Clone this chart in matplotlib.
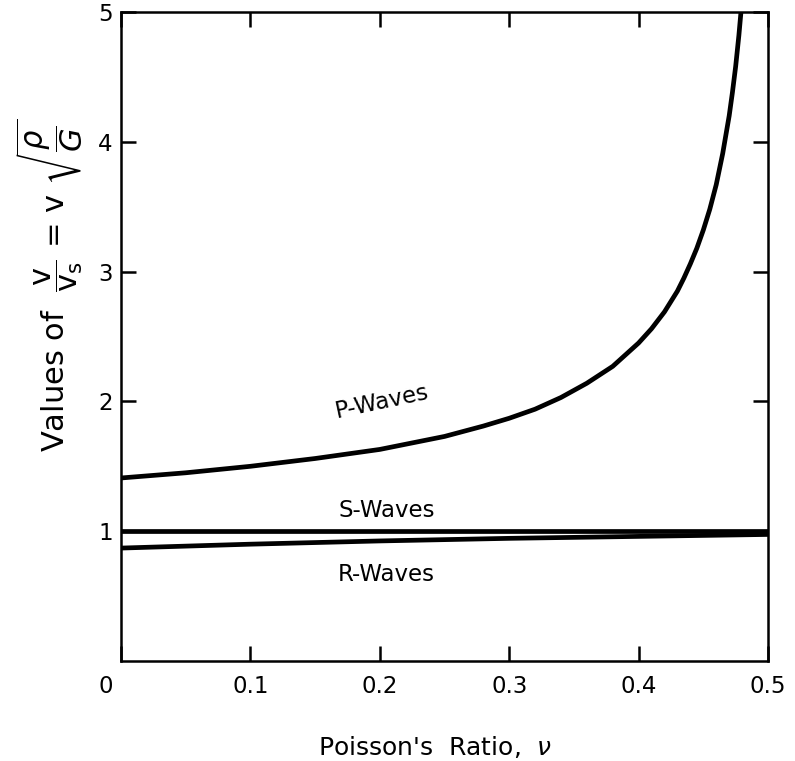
import matplotlib
matplotlib.use("Agg")
import matplotlib.pyplot as plt
from matplotlib.transforms import ScaledTranslation

# Data
nu_p = [0.0, 0.05, 0.10, 0.15, 0.20, 0.25, 0.28, 0.30, 0.32, 0.34, 0.36, 0.38, 0.39, 0.40,
        0.41, 0.42, 0.43, 0.435, 0.44, 0.445, 0.45, 0.455, 0.46, 0.465, 0.47, 0.4725,
        0.475, 0.4775, 0.48]
p_waves = [1.41, 1.45, 1.50, 1.56, 1.63, 1.73, 1.81, 1.87, 1.94, 2.03, 2.14, 2.27, 2.36, 2.45,
           2.56, 2.69, 2.85, 2.95, 3.06, 3.18, 3.32, 3.48, 3.67, 3.91, 4.20, 4.38,
           4.58, 4.82, 5.10]

nu_s = [0.0, 0.5]
s_waves = [1.0, 1.0]

nu_r = [0.0, 0.1, 0.2, 0.3, 0.4, 0.5]
r_waves = [0.87, 0.90, 0.925, 0.945, 0.96, 0.975]

x_ticks = [0.0, 0.1, 0.2, 0.3, 0.4, 0.5]
x_tick_labels = ["0", "0.1", "0.2", "0.3", "0.4", "0.5"]
y_ticks = [1, 2, 3, 4, 5]
y_tick_labels = ["1", "2", "3", "4", "5"]

plt.rcParams['font.family'] = ['DejaVu Sans']
plt.rcParams['mathtext.fontset'] = 'dejavusans'

fig = plt.figure(figsize=(7.95, 7.61), dpi=100)
ax = fig.add_axes([121/795, 1 - 661/761, (768-121)/795, (661-12)/761])

lw = 3.4
ax.plot(nu_p, p_waves, color='black', lw=lw, solid_capstyle='butt', solid_joinstyle='round')
ax.plot(nu_s, s_waves, color='black', lw=lw, solid_capstyle='butt')
ax.plot(nu_r, r_waves, color='black', lw=lw, solid_capstyle='butt')

ax.set_xlim(0, 0.5)
ax.set_ylim(0, 5)

for sp in ax.spines.values():
    sp.set_linewidth(1.8)

ax.set_xticks(x_ticks)
ax.set_xticklabels(x_tick_labels)
ax.set_yticks(y_ticks)
ax.set_yticklabels(y_tick_labels)
ax.tick_params(direction='in', length=11, width=1.8, top=True, right=True,
               labelsize=16.5, pad=10)
ax.tick_params(axis='y', pad=6)

# the "0" sits at the lower-left corner, shared by both axes
zero_lbl = ax.get_xticklabels()[0]
zero_lbl.set_transform(zero_lbl.get_transform() + ScaledTranslation(-0.15, 0, fig.dpi_scale_trans))

ax.set_xlabel("Poisson's  Ratio,  $\\nu$", fontsize=18)
ax.xaxis.set_label_coords(0.485, -0.112)
ax.set_ylabel(r"Values of  $\dfrac{\mathrm{v}}{\mathrm{v_s}}$ = v $\sqrt{\dfrac{\rho}{G}}$",
              fontsize=22)
ax.yaxis.set_label_coords(-0.055, 0.58)

ax.text(0.202, 2.0, "P-Waves", fontsize=16.5, rotation=12, ha='center', va='center')
ax.text(0.205, 1.16, "S-Waves", fontsize=16.5, ha='center', va='center')
ax.text(0.205, 0.67, "R-Waves", fontsize=16.5, ha='center', va='center')

fig.savefig("out.png", dpi=100)
